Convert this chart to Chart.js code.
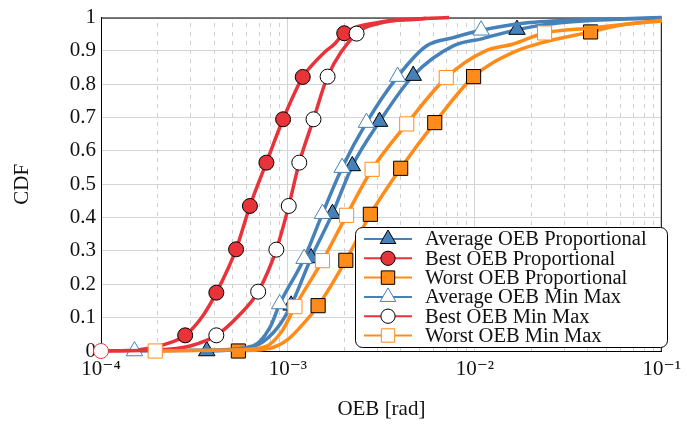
<!DOCTYPE html>
<html>
<head>
<meta charset="utf-8">
<script src="https://cdn.jsdelivr.net/npm/chart.js@4.4.1/dist/chart.umd.min.js"></script>
<style>
  html, body { margin: 0; padding: 0; background: #fff; }
</style>
</head>
<body>
<canvas id="cdf" width="687" height="425"></canvas>
<script>
// values: OEB in rad, CDF level at that OEB
const avgPropOeb = [3.68e-4, 5.4e-4, 7.0e-4, 8.8e-4, 1.04e-3, 1.33e-3, 1.73e-3, 2.21e-3, 3.09e-3, 4.68e-3, 7.66e-3, 1.1e-2, 1.68e-2, 2.78e-2, 6.3e-2, 1.0e-1];
const avgPropCdf = [0, 0.005, 0.02, 0.07, 0.137, 0.279, 0.412, 0.555, 0.688, 0.826, 0.915, 0.937, 0.964, 0.984, 0.996, 0.998];

const bestPropOeb = [1.0e-4, 1.6e-4, 2.2e-4, 2.82e-4, 3.5e-4, 4.14e-4, 5.28e-4, 6.26e-4, 7.67e-4, 9.42e-4, 1.2e-3, 1.32e-3, 1.57e-3, 1.77e-3, 2.0e-3, 2.99e-3, 4.88e-3, 7.28e-3];
const bestPropCdf = [0, 0.004, 0.02, 0.047, 0.105, 0.175, 0.305, 0.435, 0.565, 0.695, 0.822, 0.852, 0.896, 0.92, 0.953, 0.985, 0.995, 1.0];

const worstPropOeb = [5.43e-4, 8.0e-4, 1.0e-3, 1.2e-3, 1.45e-3, 2.04e-3, 2.76e-3, 4.01e-3, 6.1e-3, 9.84e-3, 1.59e-2, 2.29e-2, 4.16e-2, 6.3e-2, 1.0e-1];
const worstPropCdf = [0, 0.008, 0.035, 0.08, 0.136, 0.272, 0.41, 0.548, 0.685, 0.823, 0.895, 0.925, 0.957, 0.979, 0.99];

const avgMinMaxOeb = [1.51e-4, 4.0e-4, 6.5e-4, 8.0e-4, 9.03e-4, 1.22e-3, 1.53e-3, 1.95e-3, 2.63e-3, 3.86e-3, 5.5e-3, 7.66e-3, 1.08e-2, 1.86e-2, 4.2e-2, 1.0e-1];
const avgMinMaxCdf = [0, 0.003, 0.015, 0.07, 0.141, 0.277, 0.412, 0.55, 0.685, 0.823, 0.915, 0.94, 0.962, 0.984, 0.994, 1.0];

const bestMinMaxOeb = [1.0e-4, 2.0e-4, 3.0e-4, 4.14e-4, 5.43e-4, 6.93e-4, 8.67e-4, 1.01e-3, 1.15e-3, 1.37e-3, 1.63e-3, 2.33e-3, 3.2e-3, 5.5e-3];
const bestMinMaxCdf = [0, 0.003, 0.015, 0.047, 0.105, 0.178, 0.304, 0.435, 0.565, 0.695, 0.823, 0.952, 0.985, 0.998];

const worstMinMaxOeb = [1.95e-4, 5.0e-4, 7.5e-4, 9.3e-4, 1.09e-3, 1.53e-3, 2.06e-3, 2.82e-3, 4.32e-3, 7.03e-3, 1.14e-2, 1.59e-2, 2.36e-2, 4.2e-2, 1.0e-1];
const worstMinMaxCdf = [0, 0.003, 0.012, 0.06, 0.133, 0.271, 0.407, 0.545, 0.681, 0.82, 0.90, 0.92, 0.954, 0.969, 0.992];

// which samples carry a marker
const avgPropMarks = [0, 4, 5, 6, 7, 8, 9, 12];
const bestPropMarks = [3, 5, 6, 7, 8, 9, 10, 14];
const worstPropMarks = [0, 4, 5, 6, 7, 8, 9, 12];
const avgMinMaxMarks = [0, 4, 5, 6, 7, 8, 9, 12];
const bestMinMaxMarks = [0, 3, 5, 6, 7, 8, 9, 10, 11];
const worstMinMaxMarks = [0, 4, 5, 6, 7, 8, 9, 12];

const xTickValues = [1e-4, 1e-3, 1e-2, 1e-1];
const xTickLabels = ['10\u207B\u2074', '10\u207B\u00B3', '10\u207B\u00B2', '10\u207B\u00B9'];
const yTickValues = [0, 0.1, 0.2, 0.3, 0.4, 0.5, 0.6, 0.7, 0.8, 0.9, 1];
const yTickLabels = ['0', '0.1', '0.2', '0.3', '0.4', '0.5', '0.6', '0.7', '0.8', '0.9', '1'];

const BLUE = '#4682b9';
const RED = '#e8333a';
const ORANGE = '#ff8c1a';
const FONT = "'Liberation Serif', 'DejaVu Serif', serif";

Chart.defaults.font.family = FONT;
Chart.defaults.font.size = 21;
Chart.defaults.color = '#111';

function pts(xs, ys) {
  return xs.map((x, i) => ({ x: x, y: ys[i] }));
}

function series(label, xs, ys, marks, color, style, radius, fill, edge) {
  return {
    label: label,
    data: pts(xs, ys),
    borderColor: color,
    borderWidth: 3.5,
    cubicInterpolationMode: 'monotone',
    pointStyle: style,
    pointRadius: c => marks.includes(c.dataIndex) ? radius : 0,
    pointHoverRadius: 0,
    pointBackgroundColor: fill,
    pointBorderColor: edge,
    pointBorderWidth: 1,
    clip: false,
    markRadius: radius
  };
}

const datasets = [
  series('Average OEB Proportional', avgPropOeb, avgPropCdf, avgPropMarks, BLUE, 'triangle', 9.5, BLUE, '#000'),
  series('Best OEB Proportional', bestPropOeb, bestPropCdf, bestPropMarks, RED, 'circle', 7.5, RED, '#000'),
  series('Worst OEB Proportional', worstPropOeb, worstPropCdf, worstPropMarks, ORANGE, 'rect', 10, ORANGE, '#000'),
  series('Average OEB Min Max', avgMinMaxOeb, avgMinMaxCdf, avgMinMaxMarks, BLUE, 'triangle', 9.5, '#fff', BLUE),
  series('Best OEB Min Max', bestMinMaxOeb, bestMinMaxCdf, bestMinMaxMarks, RED, 'circle', 7.5, '#fff', c => c.dataIndex === 0 ? RED : '#000'),
  series('Worst OEB Min Max', worstMinMaxOeb, worstMinMaxCdf, worstMinMaxMarks, ORANGE, 'rect', 10, '#fff', ORANGE)
];
// pgfplots draws later plots on top
datasets.forEach((d, i) => { d.order = datasets.length - i; });

function marker(ctx, style, x, y, r) {
  ctx.beginPath();
  if (style === 'circle') {
    ctx.arc(x, y, r, 0, Math.PI * 2);
  } else if (style === 'triangle') {
    let a = 0;
    ctx.moveTo(x + Math.sin(a) * r, y - Math.cos(a) * r);
    a += 2 * Math.PI / 3;
    ctx.lineTo(x + Math.sin(a) * r, y - Math.cos(a) * r);
    a += 2 * Math.PI / 3;
    ctx.lineTo(x + Math.sin(a) * r, y - Math.cos(a) * r);
  } else {
    const s = Math.SQRT1_2 * r;
    ctx.rect(x - s, y - s, 2 * s, 2 * s);
  }
  ctx.closePath();
  ctx.fill();
  ctx.stroke();
}

// dashed minor grid + upper/right frame
const frame = {
  id: 'frame',
  beforeDatasetsDraw(chart) {
    const { ctx, chartArea: a, scales } = chart;
    ctx.save();
    ctx.strokeStyle = '#cfcfcf';
    ctx.lineWidth = 1;
    ctx.setLineDash([4, 5]);
    for (let e = -4; e < -1; e++) {
      for (let m = 2; m <= 9; m++) {
        const px = Math.round(scales.x.getPixelForValue(m * Math.pow(10, e))) + 0.5;
        ctx.beginPath();
        ctx.moveTo(px, a.bottom);
        ctx.lineTo(px, a.top);
        ctx.stroke();
      }
    }
    ctx.setLineDash([]);
    ctx.strokeStyle = '#000';
    ctx.beginPath();
    ctx.moveTo(a.left, a.top + 0.5);
    ctx.lineTo(a.right - 0.5, a.top + 0.5);
    ctx.lineTo(a.right - 0.5, a.bottom);
    ctx.stroke();
    ctx.restore();
  }
};

// legend box inside the plot, lower right
const boxLegend = {
  id: 'boxLegend',
  afterDatasetsDraw(chart) {
    const ctx = chart.ctx;
    const x0 = 355, y0 = 227, w = 312, h = 120;
    ctx.save();
    ctx.beginPath();
    ctx.roundRect(x0 + 0.5, y0 + 0.5, w, h, 7);
    ctx.fillStyle = '#fff';
    ctx.fill();
    ctx.strokeStyle = '#000';
    ctx.lineWidth = 1;
    ctx.stroke();
    ctx.font = '20.5px ' + FONT;
    ctx.textBaseline = 'middle';
    chart.data.datasets.forEach((d, i) => {
      const y = y0 + 12 + i * 19.3;
      ctx.strokeStyle = d.borderColor;
      ctx.lineWidth = 2;
      ctx.beginPath();
      ctx.moveTo(364, y);
      ctx.lineTo(412, y);
      ctx.stroke();
      ctx.lineWidth = 1;
      ctx.fillStyle = d.pointBackgroundColor;
      ctx.strokeStyle = typeof d.pointBorderColor === 'function' ? '#000' : d.pointBorderColor;
      marker(ctx, d.pointStyle, 388, y, d.markRadius * 0.95);
      ctx.fillStyle = '#111';
      ctx.fillText(d.label, 425, y + 1);
    });
    ctx.restore();
  }
};

new Chart(document.getElementById('cdf'), {
  type: 'line',
  data: { datasets: datasets },
  options: {
    responsive: false,
    animation: false,
    layout: { padding: { top: 13, right: 19, left: 0, bottom: 0 } },
    plugins: { legend: { display: false }, tooltip: { enabled: false } },
    scales: {
      x: {
        type: 'logarithmic',
        min: 1e-4,
        max: 1e-1,
        afterBuildTicks: s => { s.ticks = xTickValues.map(v => ({ value: v })); },
        afterFit: s => { s.height = 74; },
        ticks: {
          autoSkip: false,
          maxRotation: 0,
          padding: 6,
          callback: (v, i) => xTickLabels[i]
        },
        grid: { color: '#d4d4d4', drawTicks: false },
        border: { color: '#000', width: 1 },
        title: { display: true, text: 'OEB [rad]', padding: { top: 0, bottom: 3 } }
      },
      y: {
        min: 0,
        max: 1,
        afterBuildTicks: s => { s.ticks = yTickValues.map(v => ({ value: v })); },
        afterFit: s => { s.width = 101; },
        ticks: {
          padding: 5,
          callback: (v, i) => yTickLabels[i]
        },
        grid: { color: '#d4d4d4', drawTicks: false },
        border: { color: '#000', width: 1 },
        title: { display: true, text: 'CDF', padding: { top: 10, bottom: 0 } }
      }
    }
  },
  plugins: [frame, boxLegend]
});
</script>
</body>
</html>
